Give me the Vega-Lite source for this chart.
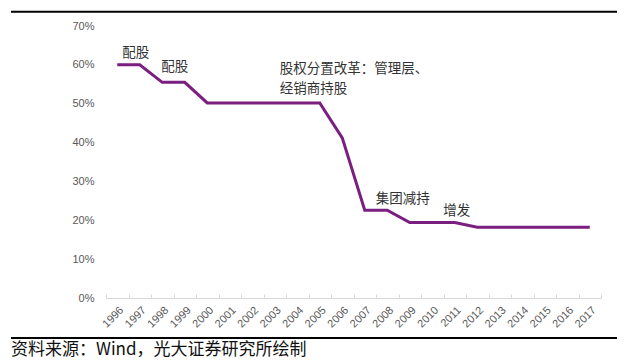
{
  "$schema": "https://vega.github.io/schema/vega-lite/v6.json",
  "width": 606,
  "height": 272,
  "autosize": {"type": "none"},
  "padding": {"left": 11, "top": 26, "right": 13, "bottom": 64},
  "background": "white",
  "config": {
    "view": {"stroke": null},
    "font": "Liberation Sans",
    "axisY": {"labelOverlap": false, "labelBound": false, "domain": false, "ticks": false, "grid": false, "title": null, "labelFontSize": 11, "labelColor": "#595959", "labelPadding": 2, "offset": -85, "values": [0, 0.1, 0.2, 0.3, 0.4, 0.5, 0.6, 0.7], "format": ".0%"}
  },
  "title": {
    "text": "资料来源：Wind，光大证券研究所绘制",
    "orient": "bottom",
    "anchor": "start",
    "frame": "group",
    "font": "Noto Sans CJK SC",
    "fontSize": 17,
    "fontWeight": "normal",
    "color": "#111111",
    "baseline": "top",
    "offset": 3
  },
  "datasets": {
    "share": [
      {"year": "1996", "value": 0.60},
      {"year": "1997", "value": 0.60},
      {"year": "1998", "value": 0.555},
      {"year": "1999", "value": 0.555},
      {"year": "2000", "value": 0.502},
      {"year": "2001", "value": 0.502},
      {"year": "2002", "value": 0.502},
      {"year": "2003", "value": 0.502},
      {"year": "2004", "value": 0.502},
      {"year": "2005", "value": 0.502},
      {"year": "2006", "value": 0.412},
      {"year": "2007", "value": 0.226},
      {"year": "2008", "value": 0.226},
      {"year": "2009", "value": 0.194},
      {"year": "2010", "value": 0.194},
      {"year": "2011", "value": 0.194},
      {"year": "2012", "value": 0.182},
      {"year": "2013", "value": 0.182},
      {"year": "2014", "value": 0.182},
      {"year": "2015", "value": 0.182},
      {"year": "2016", "value": 0.182},
      {"year": "2017", "value": 0.182}
    ],
    "notesA": [
      {"year": "1996", "value": 0.630, "label": "配股"},
      {"year": "2003", "value": 0.589, "label": "股权分置改革：管理层、"},
      {"year": "2003", "value": 0.538, "label": "经销商持股"}
    ],
    "notesB": [
      {"year": "1998", "value": 0.594, "label": "配股"}
    ],
    "notesC": [
      {"year": "2007", "value": 0.256, "label": "集团减持"},
      {"year": "2010", "value": 0.224, "label": "增发"}
    ]
  },
  "layer": [
    {
      "data": {"name": "share"},
      "mark": {"type": "line", "color": "#7a1e80", "strokeWidth": 3, "strokeJoin": "miter"},
      "encoding": {
        "x": {
          "field": "year",
          "type": "ordinal",
          "scale": {"type": "band", "range": [95, 590], "paddingInner": 0, "paddingOuter": 0},
          "axis": {
            "title": null,
            "domain": true,
            "domainColor": "#d9d9d9",
            "domainWidth": 1,
            "tickBand": "extent",
            "ticks": true,
            "tickSize": -4,
            "tickColor": "#d9d9d9",
            "labelAngle": -45,
            "labelFontSize": 11,
            "labelColor": "#595959",
            "labelPadding": 10
          }
        },
        "y": {
          "field": "value",
          "type": "quantitative",
          "scale": {"domain": [0, 0.7], "nice": false},
          "axis": {"values": [0, 0.1, 0.2, 0.3, 0.4, 0.5, 0.6, 0.7], "format": ".0%", "labelOverlap": false, "tickCount": 8}
        }
      }
    },
    {
      "data": {"name": "notesA"},
      "mark": {"type": "text", "align": "left", "baseline": "middle", "dx": 5, "font": "Noto Sans CJK SC", "fontSize": 13.5, "color": "#333333"},
      "encoding": {
        "x": {"field": "year", "type": "ordinal"},
        "y": {"field": "value", "type": "quantitative", "axis": {"values": [0, 0.1, 0.2, 0.3, 0.4, 0.5, 0.6, 0.7], "format": ".0%", "labelOverlap": false, "tickCount": 8}},
        "text": {"field": "label"}
      }
    },
    {
      "data": {"name": "notesB"},
      "mark": {"type": "text", "align": "left", "baseline": "middle", "dx": -1, "font": "Noto Sans CJK SC", "fontSize": 13.5, "color": "#333333"},
      "encoding": {
        "x": {"field": "year", "type": "ordinal"},
        "y": {"field": "value", "type": "quantitative", "axis": {"values": [0, 0.1, 0.2, 0.3, 0.4, 0.5, 0.6, 0.7], "format": ".0%", "labelOverlap": false, "tickCount": 8}},
        "text": {"field": "label"}
      }
    },
    {
      "data": {"name": "notesC"},
      "mark": {"type": "text", "align": "left", "baseline": "middle", "dx": 11, "font": "Noto Sans CJK SC", "fontSize": 13.5, "color": "#333333"},
      "encoding": {
        "x": {"field": "year", "type": "ordinal"},
        "y": {"field": "value", "type": "quantitative", "axis": {"values": [0, 0.1, 0.2, 0.3, 0.4, 0.5, 0.6, 0.7], "format": ".0%", "labelOverlap": false, "tickCount": 8}},
        "text": {"field": "label"}
      }
    },
    {
      "data": {"values": [{}]},
      "mark": {"type": "rule", "color": "#000000", "strokeWidth": 2},
      "encoding": {"y": {"datum": 0.7368, "type": "quantitative", "axis": {"values": [0, 0.1, 0.2, 0.3, 0.4, 0.5, 0.6, 0.7], "format": ".0%", "labelOverlap": false, "tickCount": 8}}}
    },
    {
      "data": {"values": [{}]},
      "mark": {"type": "rule", "color": "#000000", "strokeWidth": 2},
      "encoding": {"y": {"datum": -0.1029, "type": "quantitative", "axis": {"values": [0, 0.1, 0.2, 0.3, 0.4, 0.5, 0.6, 0.7], "format": ".0%", "labelOverlap": false, "tickCount": 8}}}
    }
  ]
}
